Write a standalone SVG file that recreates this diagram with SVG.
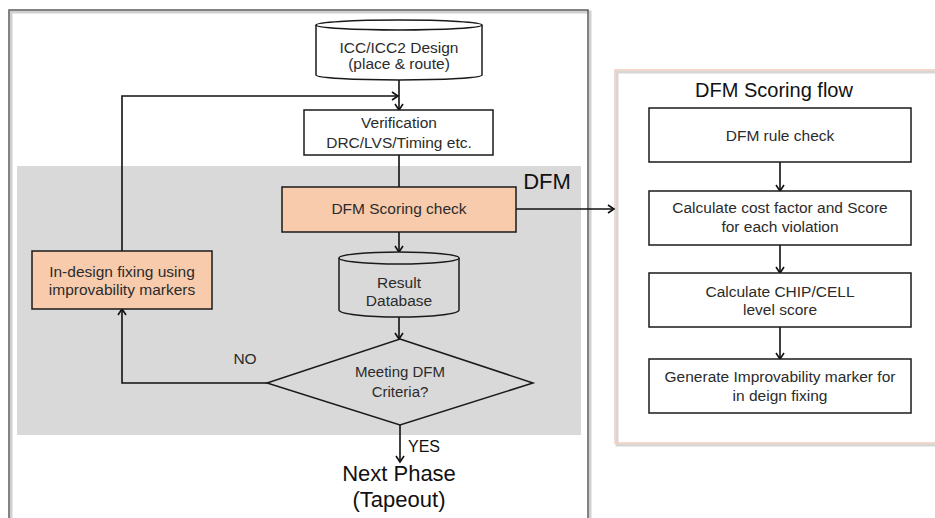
<svg xmlns="http://www.w3.org/2000/svg" width="935" height="518" viewBox="0 0 935 518">
  <defs>
    <marker id="arrow" markerWidth="10" markerHeight="10" refX="7" refY="5" orient="auto" markerUnits="userSpaceOnUse">
      <path d="M1,1 L7,5 L1,9" fill="none" stroke="#111" stroke-width="1.6"/>
    </marker>
    <style>
      .box { fill: #ffffff; stroke: #1a1a1a; stroke-width: 1.5; }
      .hot { fill: #f8cbad; stroke: #1a1a1a; stroke-width: 1.5; }
      .db { fill: #ffffff; stroke: #1a1a1a; stroke-width: 1.5; }
      .dbg { fill: #d9d9d9; stroke: #1a1a1a; stroke-width: 1.5; }
      .lbl { font-family: "Liberation Sans", Arial, sans-serif; font-size: 15.5px; fill: #2b2b2b; text-anchor: middle; }
      .small { font-size: 15px; }
      .big { font-family: "Liberation Sans", Arial, sans-serif; fill: #111; text-anchor: middle; }
      .edge { fill: none; stroke: #111; stroke-width: 1.6; }
      .arr { marker-end: url(#arrow); }
    </style>
  </defs>

  <rect x="0" y="0" width="935" height="518" fill="#ffffff"/>

  <!-- main flow frame with soft shadow -->
  <g id="main-frame">
    <rect x="11" y="12" width="579" height="520" fill="none" stroke="#d0d0d0" stroke-width="3"/>
    <rect x="9" y="10" width="579" height="520" fill="none" stroke="#666666" stroke-width="1.6"/>
  </g>

  <!-- DFM region -->
  <g id="dfm-region">
    <rect x="17" y="166" width="564" height="269" fill="#d9d9d9"/>
    <text class="big" x="547" y="189" font-size="22">DFM</text>
  </g>

  <!-- scoring flow panel -->
  <g id="scoring-panel">
    <rect x="617" y="72" width="330" height="373" fill="none" stroke="#d6d6d6" stroke-width="3"/>
    <rect x="615" y="70" width="330" height="373" fill="none" stroke="#f2d0c3" stroke-width="1.6"/>
    <text class="big" x="774" y="97" font-size="20" fill="#111">DFM Scoring flow</text>
  </g>

  <!-- connectors -->
  <g id="connectors">
    <path class="edge arr" d="M399,80 V110"/>
    <path class="edge arr" d="M122,251 V96 H398"/>
    <path class="edge" d="M399,155 V187"/>
    <path class="edge arr" d="M516,209 H614"/>
    <path class="edge arr" d="M399,232 V252"/>
    <path class="edge arr" d="M399,317 V339"/>
    <path class="edge arr" d="M267,383 H122 V309"/>
    <path class="edge arr" d="M400,425 V462"/>
    <path class="edge arr" d="M780,162 V191"/>
    <path class="edge arr" d="M780,245 V273"/>
    <path class="edge arr" d="M780,327 V359"/>
  </g>

  <g id="icc-design">
    <path class="db" d="M316,25 V75 A83,5 0 0 0 482,75 V25"/>
    <ellipse class="db" cx="399" cy="25" rx="83" ry="5"/>
    <text class="lbl" x="399" y="53">ICC/ICC2  Design</text>
    <text class="lbl" x="399" y="69">(place &amp; route)</text>
  </g>

  <g id="verification">
    <rect class="box" x="304" y="110" width="189" height="45"/>
    <text class="lbl" x="399" y="128">Verification</text>
    <text class="lbl" x="399" y="148">DRC/LVS/Timing etc.</text>
  </g>

  <g id="dfm-scoring-check">
    <rect class="hot" x="282" y="187" width="234" height="45"/>
    <text class="lbl" x="399" y="214">DFM Scoring check</text>
  </g>

  <g id="result-database">
    <path class="dbg" d="M339,258 V310 A60,7 0 0 0 459,310 V258"/>
    <ellipse class="dbg" cx="399" cy="258" rx="60" ry="6"/>
    <text class="lbl" x="399" y="288">Result</text>
    <text class="lbl" x="399" y="306">Database</text>
  </g>

  <g id="criteria">
    <polygon class="dbg" points="400,339 533,383 400,425 267,383"/>
    <text class="lbl small" x="400" y="377">Meeting DFM</text>
    <text class="lbl small" x="400" y="397">Criteria?</text>
  </g>

  <g id="in-design-fixing">
    <rect class="hot" x="32" y="251" width="180" height="58"/>
    <text class="lbl" x="122" y="277">In-design fixing using</text>
    <text class="lbl" x="122" y="295">improvability markers</text>
  </g>

  <g id="branch-labels">
    <text class="lbl" x="245" y="364" font-size="16">NO</text>
    <text class="big" x="424" y="452" font-size="16">YES</text>
  </g>

  <g id="next-phase">
    <text class="big" x="399" y="481" font-size="22">Next Phase</text>
    <text class="big" x="399" y="507" font-size="22">(Tapeout)</text>
  </g>

  <g id="rule-check">
    <rect class="box" x="649" y="108" width="262" height="54"/>
    <text class="lbl" x="780" y="141">DFM rule check</text>
  </g>

  <g id="cost-factor">
    <rect class="box" x="649" y="191" width="262" height="54"/>
    <text class="lbl" x="780" y="213">Calculate cost factor and Score</text>
    <text class="lbl" x="780" y="232">for each violation</text>
  </g>

  <g id="level-score">
    <rect class="box" x="649" y="273" width="262" height="54"/>
    <text class="lbl" x="780" y="297">Calculate CHIP/CELL</text>
    <text class="lbl" x="780" y="315">level score</text>
  </g>

  <g id="improvability-marker">
    <rect class="box" x="649" y="359" width="262" height="54"/>
    <text class="lbl" x="780" y="382">Generate Improvability marker for</text>
    <text class="lbl" x="780" y="401">in deign fixing</text>
  </g>
</svg>
